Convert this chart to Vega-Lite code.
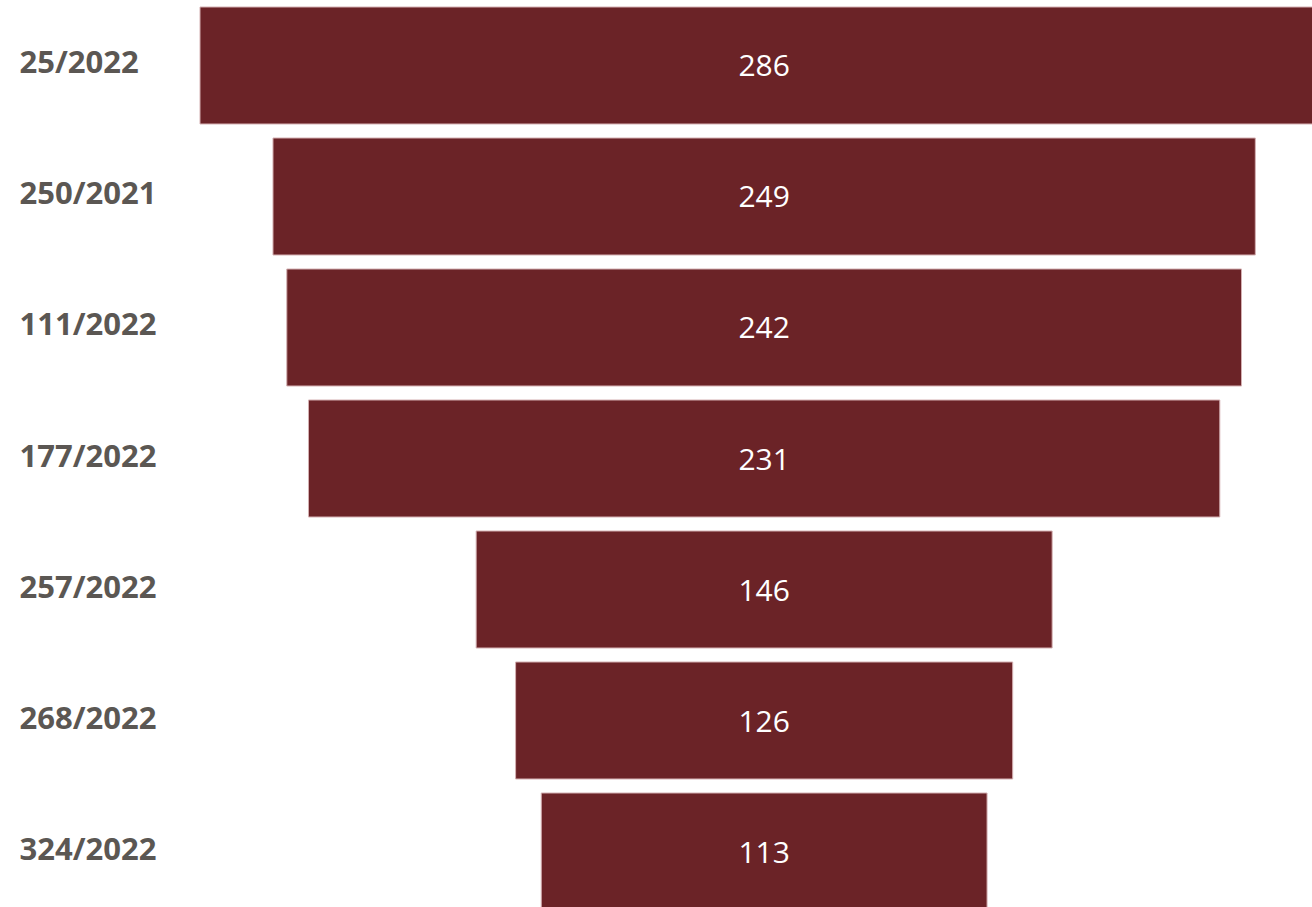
{
  "$schema": "https://vega.github.io/schema/vega-lite/v6.json",
  "width": 1312,
  "height": 907,
  "autosize": {"type": "none"},
  "padding": 0,
  "background": "white",
  "data": {
    "values": [
      {"id": "25/2022", "v": 286},
      {"id": "250/2021", "v": 249},
      {"id": "111/2022", "v": 242},
      {"id": "177/2022", "v": 231},
      {"id": "257/2022", "v": 146},
      {"id": "268/2022", "v": 126},
      {"id": "324/2022", "v": 113}
    ]
  },
  "encoding": {
    "y": {
      "field": "id",
      "type": "nominal",
      "sort": null,
      "scale": {"range": [7, 910], "paddingInner": 0.107, "paddingOuter": 0},
      "axis": {
        "title": null,
        "domain": false,
        "ticks": false,
        "labelAlign": "left",
        "labelPadding": -19,
        "labelFont": "Open Sans",
        "labelFontWeight": "bold",
        "labelFontSize": 31,
        "labelColor": "#5b5753",
        "labelBaseline": "middle",
        "labelOffset": -1
      }
    }
  },
  "layer": [
    {
      "mark": {"type": "bar", "color": "#6b2327", "stroke": "#d4b0b2", "strokeWidth": 1, "clip": true},
      "encoding": {
        "x": {
          "field": "v",
          "type": "quantitative",
          "stack": "center",
          "scale": {"domain": [0, 286], "range": [200, 1328.3], "nice": false, "zero": false},
          "axis": null
        }
      }
    },
    {
      "mark": {"type": "text", "color": "white", "font": "Open Sans", "fontSize": 30, "dy": 2, "clip": true},
      "encoding": {
        "x": {"datum": 143, "type": "quantitative"},
        "text": {"field": "v", "type": "quantitative"}
      }
    }
  ],
  "config": {"view": {"stroke": null}}
}
